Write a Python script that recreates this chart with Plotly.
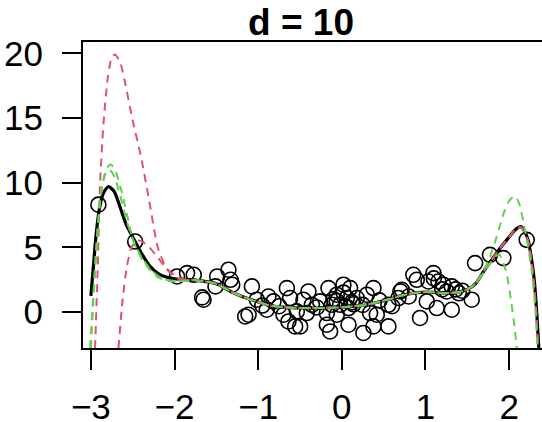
import plotly.graph_objects as go

# ---- data ----
pts_x = [-2.91, -2.47, -1.97, -1.85, -1.77,
         -1.49, -1.355, -1.33, -1.31, -1.51, -1.67, -1.075, -1.115, -1.155, -0.877,
         -0.897, -0.817, -0.657, -0.618, -0.697, -0.638, -0.558, -0.399, -0.459, -0.358,
         -0.418, -0.538, -0.160, 0.019, 0.099, -0.060, 0.060, 0.179, -0.119, -0.020,
         0.080, -0.179, -0.060, -0.179, 0.080, -0.140, 0.258, 0.378, 0.378, 0.299,
         0.418, 0.557, 0.557, 0.717, 0.677, 0.855, 0.896, 1.095, 1.036, 1.155,
         1.214, 1.314, 1.016, 0.935, 1.135, 1.314, 1.254, -0.259, -1.016,
         1.40, 1.36, 1.44, 1.20, 1.553, 1.593, 1.772, 1.931, 2.21, 1.10,
         0.70, 0.60, 0.338, -0.498, -0.10, 0.12, -0.30, 0.25, -0.75, -0.95,
         0.45, 0.80, -1.653, -0.06, 0.02, 0.14]
pts_y = [8.3, 5.45, 2.75, 3.01, 2.88,
         2.75, 3.27, 2.49, 2.11, 1.98, 1.13, 1.98, -0.21, -0.34, 1.20,
         0.18, 0.82, 1.85, 1.08, -0.21, -0.73, -1.11, 1.59, 0.95, 0.56,
         -0.08, 0.05, 1.85, 2.11, 1.85, 1.34, 1.08, 1.08, 0.56, 0.56,
         0.31, -0.08, -0.21, -0.98, -0.98, -1.50, -1.62, -1.11, 1.85, 1.34,
         -0.21, -1.11, 0.56, 1.72, 1.08, 2.88, 2.49, 3.01, 2.36, 2.36,
         2.11, 1.98, 0.82, -0.46, 0.31, 0.18, 1.59, 0.82, 0.95,
         1.45, 1.75, 1.65, 1.75, 0.95, 3.78, 4.42, 4.17, 5.58, 2.60,
         1.60, 0.45, -0.08, -1.11, 1.00, 0.75, 0.35, 0.55, 0.45, 0.50,
         0.90, 1.20, 0.95, 0.85, 1.50, 0.60]

# shared middle section of all fitted curves
mid_x = [-1.8, -1.7, -1.6, -1.5, -1.4, -1.3, -1.2, -1.1, -1.0, -0.9, -0.8, -0.7,
         -0.6, -0.5, -0.4, -0.3, -0.2, -0.1, 0.0, 0.1, 0.2, 0.3, 0.4, 0.5, 0.6,
         0.7, 0.8, 0.9, 1.0, 1.1, 1.2, 1.3, 1.4, 1.5, 1.6]
mid_y = [2.5, 2.42, 2.33, 2.18, 1.85, 1.5, 1.22, 0.98, 0.78, 0.57, 0.45, 0.38,
         0.34, 0.32, 0.31, 0.31, 0.32, 0.34, 0.37, 0.42, 0.48, 0.56, 0.72, 0.88, 1.05,
         1.25, 1.4, 1.5, 1.54, 1.52, 1.48, 1.48, 1.55, 1.75, 2.2]

# black fit: left / right tails
black_lx = [-3.0, -2.97, -2.94, -2.9, -2.85, -2.79, -2.72, -2.65, -2.58, -2.5, -2.4,
            -2.3, -2.2, -2.1, -2.0, -1.9]
black_ly = [1.25, 3.5, 5.8, 7.9, 9.2, 9.7, 9.3, 8.1, 6.8, 5.8, 4.6,
            3.6, 3.0, 2.7, 2.57, 2.52]
black_rx = [1.7, 1.8, 1.9, 2.0, 2.05, 2.1, 2.14, 2.18, 2.23, 2.27, 2.3, 2.33, 2.355]
black_ry = [3.2, 4.1, 5.0, 5.8, 6.2, 6.5, 6.6, 6.3, 5.5, 4.0, 2.5, 0.0, -2.8]

# red fits
red1_lx = [-2.95, -2.92, -2.89, -2.85, -2.8, -2.75, -2.71, -2.65, -2.6, -2.5, -2.4,
           -2.3, -2.2, -2.1, -2.0, -1.9]
red1_ly = [-2.8, 3.0, 10.0, 14.5, 18.0, 19.7, 19.9, 19.3, 18.0, 14.8, 12.0,
           8.5, 5.0, 3.4, 2.7, 2.5]
red2_lx = [-2.67, -2.62, -2.57, -2.52, -2.46, -2.4, -2.3, -2.2, -2.1, -2.0, -1.9]
red2_ly = [-2.8, 1.0, 3.5, 4.9, 5.5, 5.5, 5.0, 4.2, 3.4, 2.85, 2.55]
red_rx = [1.7, 1.8, 1.9, 2.0, 2.05, 2.1, 2.14, 2.18, 2.23, 2.27, 2.3, 2.33, 2.345]
red_ry = [3.2, 4.1, 5.0, 5.8, 6.2, 6.5, 6.55, 6.25, 5.4, 3.8, 2.0, -0.6, -2.8]

# green fits
green1_lx = [-3.01, -2.97, -2.93, -2.89, -2.85, -2.8, -2.76, -2.7, -2.62, -2.55, -2.5,
             -2.4, -2.3, -2.2, -2.1, -2.0, -1.9]
green1_ly = [-2.8, 1.5, 5.6, 8.7, 10.3, 11.2, 11.4, 10.8, 9.0, 7.0, 5.6,
             4.2, 3.3, 2.7, 2.45, 2.35, 2.38]
green1_rx = [1.7, 1.8, 1.85, 1.89, 1.93, 1.97, 2.02, 2.07, 2.09]
green1_ry = [3.1, 4.0, 4.35, 4.4, 3.8, 3.0, 1.0, -1.4, -2.8]
green2_lx = [-3.0, -2.96, -2.92, -2.88, -2.83, -2.78, -2.72, -2.65, -2.57, -2.5,
             -2.4, -2.3, -2.2, -2.1, -2.0, -1.9]
green2_ly = [-2.8, 2.0, 6.2, 9.0, 10.6, 11.0, 10.5, 9.0, 7.0, 5.7,
             4.3, 3.4, 2.8, 2.5, 2.4, 2.4]
green2_rx = [1.7, 1.75, 1.8, 1.85, 1.9, 1.95, 2.0, 2.05, 2.08, 2.12, 2.17, 2.22,
             2.27, 2.31, 2.34]
green2_ry = [3.3, 3.9, 4.8, 5.8, 6.9, 7.9, 8.6, 8.9, 8.9, 8.4, 7.0, 5.3,
             3.2, 0.5, -2.8]

x_ticks = [-3, -2, -1, 0, 1, 2]
y_ticks = [0, 5, 10, 15, 20]
title_text = "d = 10"

RED = "#DF536B"
GREEN = "#61D04F"
FONT = "Liberation Sans, Arial, Helvetica, sans-serif"


def join(lx, ly, rx, ry):
    return lx + mid_x + rx, ly + mid_y + ry


fig = go.Figure()
fig.add_trace(go.Scatter(x=pts_x, y=pts_y, mode="markers",
                         marker=dict(symbol="circle-open", size=15, color="black",
                                     line=dict(width=1.6, color="black")),
                         showlegend=False))

bx, by = join(black_lx, black_ly, black_rx, black_ry)
fig.add_trace(go.Scatter(x=bx, y=by, mode="lines", line=dict(color="black", width=3.2, shape="spline", smoothing=0.6), showlegend=False))

for lx, ly in [(red1_lx, red1_ly), (red2_lx, red2_ly)]:
    xx, yy = join(lx, ly, red_rx, red_ry)
    fig.add_trace(go.Scatter(x=xx, y=yy, mode="lines",
                             line=dict(color=RED, width=2, dash="8px,6px", shape="spline", smoothing=0.6),
                             showlegend=False))

for lx, ly, rx, ry in [(green1_lx, green1_ly, green1_rx, green1_ry),
                       (green2_lx, green2_ly, green2_rx, green2_ry)]:
    xx, yy = join(lx, ly, rx, ry)
    fig.add_trace(go.Scatter(x=xx, y=yy, mode="lines",
                             line=dict(color=GREEN, width=2, dash="8px,6px", shape="spline", smoothing=0.6),
                             showlegend=False))

fig.update_layout(
    width=542, height=422, autosize=False,
    margin=dict(l=83, r=0, t=42, b=74, autoexpand=False),
    paper_bgcolor="white", plot_bgcolor="white",
    font=dict(family=FONT, size=35, color="black"),
    title=dict(text="<b>" + title_text + "</b>", x=301 / 542, xanchor="center",
               y=1 - 22 / 422, yanchor="middle", yref="container",
               font=dict(family=FONT, size=37, color="black")),
)
fig.update_xaxes(range=[-3.094, 2.393], tickvals=x_ticks, ticks="outside", ticklen=20,
                 tickwidth=1.5, tickcolor="black", showline=True, linewidth=2,
                 linecolor="black", mirror=True, showgrid=False, zeroline=False,
                 automargin=False, ticklabelstandoff=7)
fig.update_yaxes(range=[-2.78, 20.87], tickvals=y_ticks, ticks="outside", ticklen=19,
                 tickwidth=1.5, tickcolor="black", showline=True, linewidth=2,
                 linecolor="black", mirror=False, showgrid=False, zeroline=False,
                 automargin=False, ticklabelstandoff=12)

fig.write_html("out.html", config={"displayModeBar": False},
               post_script="document.body.style.margin='0';document.body.style.overflow='hidden';")
